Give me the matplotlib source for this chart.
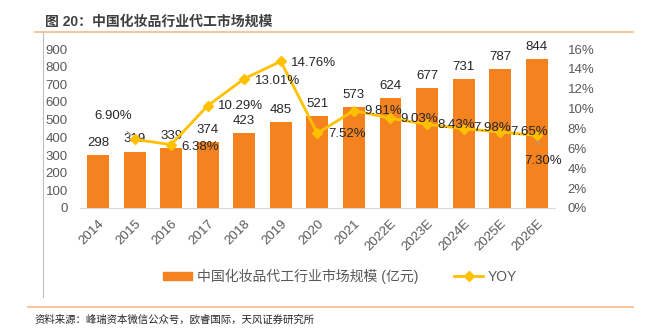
import numpy as np
import matplotlib.pyplot as plt
from matplotlib.lines import Line2D
from matplotlib.patches import Patch

# 字体：数字用 Liberation Sans，中文回退到 Noto Sans CJK SC
plt.rcParams['font.family'] = ['Liberation Sans', 'Noto Sans CJK SC']

# 数据
years = ['2014', '2015', '2016', '2017', '2018', '2019', '2020',
         '2021', '2022E', '2023E', '2024E', '2025E', '2026E']
market_size = [298, 319, 339, 374, 423, 485, 521, 573, 624, 677, 731, 787, 844]
yoy = [np.nan, 6.90, 6.38, 10.29, 13.01, 14.76, 7.52, 9.81, 9.03, 8.43, 7.98, 7.65, 7.30]

left_ticks = list(range(0, 1000, 100))
right_ticks = list(range(0, 18, 2))

title = '图 20：中国化妆品行业代工市场规模'
bar_name = '中国化妆品代工行业市场规模 (亿元)'
line_name = 'YOY'
source = '资料来源：峰瑞资本微信公众号，欧睿国际，天风证券研究所'

# 样式
bar_color = '#F4831F'
line_color = '#FFC000'
tick_color = '#595959'
rule_color = '#F8B98A'

# YOY 标签相对数据点的偏移（像素，右/下为正）
label_offsets = [None, (-21, -23), (29, 2), (33, 0), (33, 2), (33, 2), (30, 1),
                 (29, 0), (29, 1), (29, 1), (29, -1), (29, 0), (6, 26)]
leader = [False, True] + [False] * 10 + [True]

fig = plt.figure(figsize=(6.49, 3.33), dpi=100)
W, H = 649, 333


def fx(px):
    return px / W


def fy(py):
    return 1 - py / H


ax = fig.add_axes([fx(79.7), fy(208), fx(555) - fx(79.7), fy(49) - fy(208)])
x = np.arange(len(years))

ax.bar(x, market_size, width=0.6, color=bar_color, zorder=2)
ax.set_xlim(-0.5, len(years) - 0.5)
ax.set_ylim(0, 900)
ax.set_yticks(left_ticks)
ax.set_xticks(x)
ax.set_xticklabels(years, rotation=45, ha='right', va='top', rotation_mode='anchor')
ax.tick_params(axis='both', length=0, labelsize=9.5, colors=tick_color)
ax.tick_params(axis='y', pad=8.5)
ax.tick_params(axis='x', pad=7)
for s in ['top', 'left', 'right']:
    ax.spines[s].set_visible(False)
ax.spines['bottom'].set_color('#D9D9D9')

for xi, v in zip(x, market_size):
    ax.annotate(str(v), (xi, v), xytext=(0, 4.5), textcoords='offset points',
                ha='center', va='bottom', fontsize=9.5, color='#262626')

ax2 = ax.twinx()
ax2.plot(x, yoy, color=line_color, lw=2, marker='D', ms=5.5, zorder=3)
ax2.set_ylim(0, 16)
ax2.set_yticks(right_ticks)
ax2.set_yticklabels([f'{t}%' for t in right_ticks])
ax2.tick_params(axis='y', length=0, labelsize=9.5, colors=tick_color, pad=9)
for s in ax2.spines.values():
    s.set_visible(False)

for xi, v, off, ld in zip(x, yoy, label_offsets, leader):
    if off is None or np.isnan(v):
        continue
    dx, dy = off[0] * 0.72, -off[1] * 0.72
    arrow = dict(arrowstyle='-', color='#A6A6A6', lw=1, shrinkA=6, shrinkB=4) if ld else None
    ax2.annotate(f'{v:.2f}%', (xi, v), xytext=(dx, dy), textcoords='offset points',
                 ha='center', va='center', fontsize=9.5, color='#262626',
                 arrowprops=arrow, zorder=5)

# 标题、分隔线、左侧边线
fig.text(fx(45), fy(22), title, fontsize=10, fontweight='bold', color='#404040',
         ha='left', va='center')
fig.add_artist(Line2D([fx(35), fx(633)], [fy(32), fy(32)], color=rule_color, lw=1.2))
fig.add_artist(Line2D([fx(28), fx(633)], [fy(307), fy(307)], color=rule_color, lw=1.2))
fig.add_artist(Line2D([fx(43), fx(43)], [fy(33), fy(297)], color='#BFBFBF', lw=0.8))

handles = [Patch(color=bar_color),
           Line2D([], [], color=line_color, lw=2, marker='D', ms=5)]
fig.legend(handles, [bar_name, line_name], loc='center', bbox_to_anchor=(fx(340), fy(276)),
           ncol=2, frameon=False, fontsize=10, handlelength=2.1, handleheight=0.5,
           handletextpad=0.3, columnspacing=2.6, labelcolor=tick_color)

fig.text(fx(35), fy(320), source, fontsize=7.5, color='#262626', ha='left', va='center')

fig.savefig('out.png', dpi=100)
